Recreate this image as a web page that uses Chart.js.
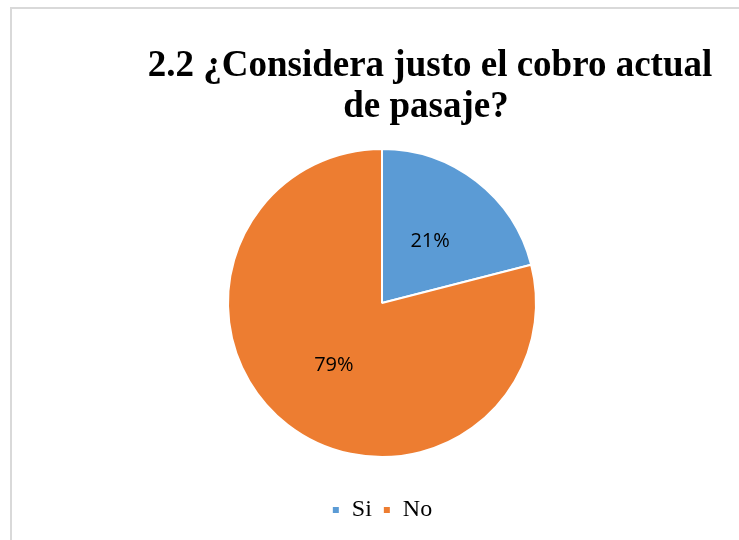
<!DOCTYPE html>
<html>
<head>
<meta charset="utf-8">
<script src="https://cdn.jsdelivr.net/npm/chart.js@4/dist/chart.umd.min.js"></script>
<style>
  html, body { margin: 0; padding: 0; background: #fff; overflow: hidden; }
  #frame {
    position: absolute; left: 10px; top: 7px;
    width: 760px; height: 560px;
    border: 2px solid #d9d9d9; box-sizing: border-box;
  }
  #wrap { position: absolute; left: 0; top: 0; width: 739px; height: 540px; }
</style>
</head>
<body>
<div id="frame"></div>
<div id="wrap"><canvas id="pie" width="739" height="540"></canvas></div>
<script>
const categories = ["Si", "No"];
const values = [21, 79];
const sliceColors = ["#5b9bd5", "#ed7d31"];
const titleLines = ["2.2 ¿Considera justo el cobro actual", "de pasaje?"];

// title sits a bit right of the pie, so it is drawn by hand
const titlePlugin = {
    id: "offsetTitle",
    afterDraw(chart) {
        const ctx = chart.ctx;
        ctx.save();
        ctx.font = "bold 37px 'Liberation Serif', 'Times New Roman', serif";
        ctx.fillStyle = "#000";
        ctx.textAlign = "center";
        ctx.textBaseline = "alphabetic";
        ctx.fillText(titleLines[0], 430, 76);
        ctx.fillText(titleLines[1], 426, 117);
        ctx.restore();
    }
};

// percentage labels inside each slice
const sliceLabels = {
    id: "sliceLabels",
    afterDatasetsDraw(chart) {
        const ctx = chart.ctx;
        const meta = chart.getDatasetMeta(0);
        const total = values.reduce((a, b) => a + b, 0);
        ctx.save();
        ctx.font = "20px 'Open Sans', 'Liberation Sans', sans-serif";
        ctx.fillStyle = "#000";
        ctx.textAlign = "center";
        ctx.textBaseline = "middle";
        meta.data.forEach((arc, i) => {
            const p = arc.getProps(["x", "y", "startAngle", "endAngle", "outerRadius"], true);
            const mid = (p.startAngle + p.endAngle) / 2;
            const r = p.outerRadius * 0.51;
            const pct = Math.round(values[i] / total * 100) + "%";
            ctx.fillText(pct, p.x + Math.cos(mid) * r, p.y + Math.sin(mid) * r);
        });
        ctx.restore();
    }
};

new Chart(document.getElementById("pie"), {
    type: "pie",
    data: {
        labels: categories,
        datasets: [{
            data: values,
            backgroundColor: sliceColors,
            borderColor: "#ffffff",
            borderWidth: 2
        }]
    },
    options: {
        responsive: false,
        animation: false,
        layout: { padding: { top: 148, bottom: 8, left: 25, right: 0 } },
        plugins: {
            tooltip: { enabled: false },
            title: { display: false },
            legend: {
                position: "bottom",
                // empty legend title only adds room above the items
                title: { display: true, text: "", font: { size: 10 }, padding: { top: 17, bottom: 0 } },
                labels: {
                    boxWidth: 8,
                    boxHeight: 8,
                    padding: 11,
                    color: "#000",
                    font: { family: "'Liberation Serif', 'Times New Roman', serif", size: 24 }
                }
            }
        }
    },
    plugins: [titlePlugin, sliceLabels]
});
</script>
</body>
</html>
